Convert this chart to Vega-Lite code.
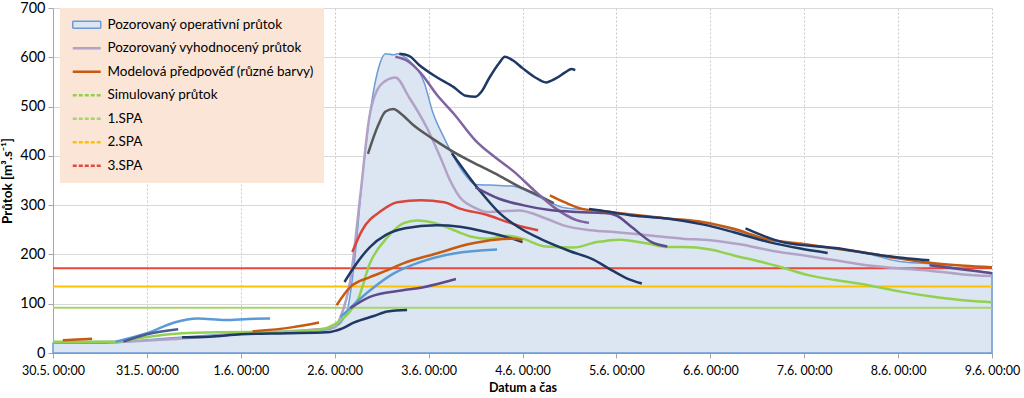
{
  "$schema": "https://vega.github.io/schema/vega-lite/v6.json",
  "width": 939,
  "height": 345,
  "autosize": {"type": "none"},
  "padding": {"left": 53, "top": 8, "right": 32, "bottom": 45},
  "background": "#ffffff",
  "config": {
    "view": {"stroke": null},
    "font": "Lato"
  },
  "datasets": {
    "obs": [
      {"t": "2013-05-30T00:00", "v": 20},
      {"t": "2013-05-30T12:00", "v": 20},
      {"t": "2013-05-30T18:00", "v": 22},
      {"t": "2013-05-31T00:00", "v": 27},
      {"t": "2013-05-31T12:00", "v": 34},
      {"t": "2013-06-01T00:00", "v": 40},
      {"t": "2013-06-01T12:00", "v": 42},
      {"t": "2013-06-01T22:00", "v": 47},
      {"t": "2013-06-02T00:00", "v": 52},
      {"t": "2013-06-02T03:00", "v": 81},
      {"t": "2013-06-02T05:00", "v": 182},
      {"t": "2013-06-02T07:00", "v": 350},
      {"t": "2013-06-02T09:00", "v": 485},
      {"t": "2013-06-02T11:30", "v": 586},
      {"t": "2013-06-02T13:00", "v": 607},
      {"t": "2013-06-02T15:00", "v": 605},
      {"t": "2013-06-02T16:00", "v": 607},
      {"t": "2013-06-02T18:00", "v": 600},
      {"t": "2013-06-02T19:30", "v": 590},
      {"t": "2013-06-02T23:00", "v": 546},
      {"t": "2013-06-03T01:00", "v": 490},
      {"t": "2013-06-03T04:00", "v": 436},
      {"t": "2013-06-03T06:30", "v": 397},
      {"t": "2013-06-03T09:00", "v": 365},
      {"t": "2013-06-03T12:00", "v": 342},
      {"t": "2013-06-03T18:00", "v": 340},
      {"t": "2013-06-03T22:00", "v": 338},
      {"t": "2013-06-04T02:00", "v": 325},
      {"t": "2013-06-04T06:00", "v": 310},
      {"t": "2013-06-04T10:00", "v": 296},
      {"t": "2013-06-04T14:00", "v": 292},
      {"t": "2013-06-04T20:00", "v": 288},
      {"t": "2013-06-05T04:00", "v": 280},
      {"t": "2013-06-05T13:00", "v": 273},
      {"t": "2013-06-05T22:00", "v": 266},
      {"t": "2013-06-06T06:00", "v": 250},
      {"t": "2013-06-06T14:00", "v": 230},
      {"t": "2013-06-06T23:00", "v": 221},
      {"t": "2013-06-07T08:00", "v": 212},
      {"t": "2013-06-07T16:00", "v": 202},
      {"t": "2013-06-08T00:00", "v": 186},
      {"t": "2013-06-08T09:00", "v": 180},
      {"t": "2013-06-08T17:00", "v": 170},
      {"t": "2013-06-09T00:00", "v": 163}
    ],
    "ser": [
      {"s": "Pozorovaný vyhodnocený průtok", "t": "2013-05-30T00:00", "v": 22},
      {"s": "Pozorovaný vyhodnocený průtok", "t": "2013-05-30T18:00", "v": 23},
      {"s": "Pozorovaný vyhodnocený průtok", "t": "2013-05-31T06:00", "v": 28},
      {"s": "Pozorovaný vyhodnocený průtok", "t": "2013-05-31T18:00", "v": 35},
      {"s": "Pozorovaný vyhodnocený průtok", "t": "2013-06-01T06:00", "v": 42},
      {"s": "Pozorovaný vyhodnocený průtok", "t": "2013-06-01T18:00", "v": 47},
      {"s": "Pozorovaný vyhodnocený průtok", "t": "2013-06-02T00:00", "v": 52},
      {"s": "Pozorovaný vyhodnocený průtok", "t": "2013-06-02T01:30", "v": 73},
      {"s": "Pozorovaný vyhodnocený průtok", "t": "2013-06-02T04:00", "v": 148},
      {"s": "Pozorovaný vyhodnocený průtok", "t": "2013-06-02T06:30", "v": 316},
      {"s": "Pozorovaný vyhodnocený průtok", "t": "2013-06-02T09:00", "v": 485},
      {"s": "Pozorovaný vyhodnocený průtok", "t": "2013-06-02T12:00", "v": 546},
      {"s": "Pozorovaný vyhodnocený průtok", "t": "2013-06-02T15:30", "v": 559},
      {"s": "Pozorovaný vyhodnocený průtok", "t": "2013-06-02T19:00", "v": 519},
      {"s": "Pozorovaný vyhodnocený průtok", "t": "2013-06-02T23:30", "v": 458},
      {"s": "Pozorovaný vyhodnocený průtok", "t": "2013-06-03T03:00", "v": 397},
      {"s": "Pozorovaný vyhodnocený průtok", "t": "2013-06-03T05:30", "v": 350},
      {"s": "Pozorovaný vyhodnocený průtok", "t": "2013-06-03T08:00", "v": 316},
      {"s": "Pozorovaný vyhodnocený průtok", "t": "2013-06-03T11:30", "v": 296},
      {"s": "Pozorovaný vyhodnocený průtok", "t": "2013-06-03T15:00", "v": 286},
      {"s": "Pozorovaný vyhodnocený průtok", "t": "2013-06-03T23:00", "v": 289},
      {"s": "Pozorovaný vyhodnocený průtok", "t": "2013-06-04T06:00", "v": 273},
      {"s": "Pozorovaný vyhodnocený průtok", "t": "2013-06-04T10:30", "v": 259},
      {"s": "Pozorovaný vyhodnocený průtok", "t": "2013-06-04T17:30", "v": 249},
      {"s": "Pozorovaný vyhodnocený průtok", "t": "2013-06-05T00:00", "v": 245},
      {"s": "Pozorovaný vyhodnocený průtok", "t": "2013-06-05T08:00", "v": 239},
      {"s": "Pozorovaný vyhodnocený průtok", "t": "2013-06-05T17:00", "v": 232},
      {"s": "Pozorovaný vyhodnocený průtok", "t": "2013-06-06T00:00", "v": 229},
      {"s": "Pozorovaný vyhodnocený průtok", "t": "2013-06-06T08:00", "v": 220},
      {"s": "Pozorovaný vyhodnocený průtok", "t": "2013-06-06T16:00", "v": 207},
      {"s": "Pozorovaný vyhodnocený průtok", "t": "2013-06-07T00:00", "v": 198},
      {"s": "Pozorovaný vyhodnocený průtok", "t": "2013-06-07T08:00", "v": 188},
      {"s": "Pozorovaný vyhodnocený průtok", "t": "2013-06-07T16:00", "v": 178},
      {"s": "Pozorovaný vyhodnocený průtok", "t": "2013-06-08T00:00", "v": 172},
      {"s": "Pozorovaný vyhodnocený průtok", "t": "2013-06-08T08:00", "v": 167},
      {"s": "Pozorovaný vyhodnocený průtok", "t": "2013-06-08T16:00", "v": 160},
      {"s": "Pozorovaný vyhodnocený průtok", "t": "2013-06-09T00:00", "v": 156},
      {"s": "Simulovaný průtok", "t": "2013-05-30T00:00", "v": 23},
      {"s": "Simulovaný průtok", "t": "2013-05-30T16:00", "v": 23},
      {"s": "Simulovaný průtok", "t": "2013-05-30T22:00", "v": 30},
      {"s": "Simulovaný průtok", "t": "2013-05-31T09:00", "v": 40},
      {"s": "Simulovaný průtok", "t": "2013-05-31T18:00", "v": 42},
      {"s": "Simulovaný průtok", "t": "2013-06-01T12:00", "v": 43},
      {"s": "Simulovaný průtok", "t": "2013-06-01T20:00", "v": 47},
      {"s": "Simulovaný průtok", "t": "2013-06-02T00:00", "v": 58},
      {"s": "Simulovaný průtok", "t": "2013-06-02T04:00", "v": 85},
      {"s": "Simulovaný průtok", "t": "2013-06-02T06:00", "v": 110},
      {"s": "Simulovaný průtok", "t": "2013-06-02T09:00", "v": 182},
      {"s": "Simulovaný průtok", "t": "2013-06-02T13:30", "v": 235},
      {"s": "Simulovaný průtok", "t": "2013-06-02T17:30", "v": 263},
      {"s": "Simulovaný průtok", "t": "2013-06-02T21:00", "v": 269},
      {"s": "Simulovaný průtok", "t": "2013-06-03T02:00", "v": 263},
      {"s": "Simulovaný průtok", "t": "2013-06-03T06:30", "v": 249},
      {"s": "Simulovaný průtok", "t": "2013-06-03T11:00", "v": 236},
      {"s": "Simulovaný průtok", "t": "2013-06-03T15:00", "v": 232},
      {"s": "Simulovaný průtok", "t": "2013-06-03T20:00", "v": 238},
      {"s": "Simulovaný průtok", "t": "2013-06-04T00:00", "v": 232},
      {"s": "Simulovaný průtok", "t": "2013-06-04T06:00", "v": 216},
      {"s": "Simulovaný průtok", "t": "2013-06-04T13:00", "v": 214},
      {"s": "Simulovaný průtok", "t": "2013-06-04T19:00", "v": 225},
      {"s": "Simulovaný průtok", "t": "2013-06-05T01:00", "v": 230},
      {"s": "Simulovaný průtok", "t": "2013-06-05T08:00", "v": 222},
      {"s": "Simulovaný průtok", "t": "2013-06-05T13:00", "v": 215},
      {"s": "Simulovaný průtok", "t": "2013-06-05T17:00", "v": 215},
      {"s": "Simulovaný průtok", "t": "2013-06-06T00:00", "v": 210},
      {"s": "Simulovaný průtok", "t": "2013-06-06T06:00", "v": 198},
      {"s": "Simulovaný průtok", "t": "2013-06-06T13:00", "v": 185},
      {"s": "Simulovaný průtok", "t": "2013-06-06T19:00", "v": 172},
      {"s": "Simulovaný průtok", "t": "2013-06-07T01:00", "v": 158},
      {"s": "Simulovaný průtok", "t": "2013-06-07T08:00", "v": 148},
      {"s": "Simulovaný průtok", "t": "2013-06-07T16:00", "v": 138},
      {"s": "Simulovaný průtok", "t": "2013-06-08T01:00", "v": 124},
      {"s": "Simulovaný průtok", "t": "2013-06-08T09:00", "v": 114},
      {"s": "Simulovaný průtok", "t": "2013-06-08T18:00", "v": 106},
      {"s": "Simulovaný průtok", "t": "2013-06-09T00:00", "v": 103}
    ],
    "spa": [
      {"s": "1.SPA", "v": 92},
      {"s": "2.SPA", "v": 135},
      {"s": "3.SPA", "v": 172}
    ],
    "fc": [
      {"r": "r01", "t": "2013-05-30T02:30", "v": 26},
      {"r": "r01", "t": "2013-05-30T10:00", "v": 29},
      {"r": "r02", "t": "2013-05-30T16:00", "v": 23},
      {"r": "r02", "t": "2013-05-31T00:00", "v": 40},
      {"r": "r02", "t": "2013-05-31T07:00", "v": 62},
      {"r": "r02", "t": "2013-05-31T13:00", "v": 70},
      {"r": "r02", "t": "2013-05-31T20:00", "v": 67},
      {"r": "r02", "t": "2013-06-01T02:00", "v": 69},
      {"r": "r02", "t": "2013-06-01T07:30", "v": 70},
      {"r": "r03", "t": "2013-05-30T18:00", "v": 23},
      {"r": "r03", "t": "2013-05-31T00:00", "v": 38},
      {"r": "r03", "t": "2013-05-31T08:00", "v": 48},
      {"r": "r04", "t": "2013-05-31T09:00", "v": 32},
      {"r": "r04", "t": "2013-05-31T16:00", "v": 33},
      {"r": "r04", "t": "2013-06-01T00:00", "v": 38},
      {"r": "r04", "t": "2013-06-01T12:00", "v": 40},
      {"r": "r04", "t": "2013-06-01T22:00", "v": 42},
      {"r": "r04", "t": "2013-06-02T02:00", "v": 50},
      {"r": "r04", "t": "2013-06-02T05:00", "v": 62},
      {"r": "r04", "t": "2013-06-02T10:00", "v": 75},
      {"r": "r04", "t": "2013-06-02T13:30", "v": 84},
      {"r": "r04", "t": "2013-06-02T18:30", "v": 87},
      {"r": "r05", "t": "2013-06-01T03:00", "v": 44},
      {"r": "r05", "t": "2013-06-01T13:00", "v": 52},
      {"r": "r05", "t": "2013-06-01T20:00", "v": 62},
      {"r": "r06", "t": "2013-06-02T08:30", "v": 404},
      {"r": "r06", "t": "2013-06-02T11:00", "v": 460},
      {"r": "r06", "t": "2013-06-02T13:00", "v": 490},
      {"r": "r06", "t": "2013-06-02T15:00", "v": 495},
      {"r": "r06", "t": "2013-06-02T17:00", "v": 485},
      {"r": "r06", "t": "2013-06-02T20:00", "v": 463},
      {"r": "r06", "t": "2013-06-03T01:00", "v": 435},
      {"r": "r06", "t": "2013-06-03T07:00", "v": 405},
      {"r": "r06", "t": "2013-06-03T13:00", "v": 380},
      {"r": "r06", "t": "2013-06-03T18:00", "v": 360},
      {"r": "r06", "t": "2013-06-03T23:30", "v": 336},
      {"r": "r06", "t": "2013-06-04T03:30", "v": 322},
      {"r": "r06", "t": "2013-06-04T08:00", "v": 304},
      {"r": "r07", "t": "2013-06-02T04:30", "v": 205},
      {"r": "r07", "t": "2013-06-02T07:00", "v": 249},
      {"r": "r07", "t": "2013-06-02T12:00", "v": 289},
      {"r": "r07", "t": "2013-06-02T16:00", "v": 306},
      {"r": "r07", "t": "2013-06-02T22:00", "v": 310},
      {"r": "r07", "t": "2013-06-03T04:00", "v": 306},
      {"r": "r07", "t": "2013-06-03T08:00", "v": 293},
      {"r": "r07", "t": "2013-06-03T15:00", "v": 280},
      {"r": "r07", "t": "2013-06-03T20:00", "v": 266},
      {"r": "r07", "t": "2013-06-04T00:00", "v": 256},
      {"r": "r07", "t": "2013-06-04T04:00", "v": 249},
      {"r": "r08", "t": "2013-06-02T02:30", "v": 144},
      {"r": "r08", "t": "2013-06-02T05:00", "v": 175},
      {"r": "r08", "t": "2013-06-02T09:00", "v": 215},
      {"r": "r08", "t": "2013-06-02T13:00", "v": 239},
      {"r": "r08", "t": "2013-06-02T18:00", "v": 253},
      {"r": "r08", "t": "2013-06-03T02:00", "v": 259},
      {"r": "r08", "t": "2013-06-03T08:00", "v": 256},
      {"r": "r08", "t": "2013-06-03T15:00", "v": 245},
      {"r": "r08", "t": "2013-06-03T20:00", "v": 235},
      {"r": "r08", "t": "2013-06-04T00:00", "v": 225},
      {"r": "r09", "t": "2013-06-03T06:00", "v": 405},
      {"r": "r09", "t": "2013-06-03T13:00", "v": 330},
      {"r": "r09", "t": "2013-06-03T18:00", "v": 285},
      {"r": "r09", "t": "2013-06-03T23:00", "v": 255},
      {"r": "r09", "t": "2013-06-04T05:00", "v": 230},
      {"r": "r09", "t": "2013-06-04T12:00", "v": 207},
      {"r": "r09", "t": "2013-06-04T18:00", "v": 190},
      {"r": "r09", "t": "2013-06-04T23:00", "v": 167},
      {"r": "r09", "t": "2013-06-05T02:30", "v": 152},
      {"r": "r09", "t": "2013-06-05T06:30", "v": 141},
      {"r": "r10", "t": "2013-06-02T00:30", "v": 97},
      {"r": "r10", "t": "2013-06-02T04:00", "v": 134},
      {"r": "r10", "t": "2013-06-02T09:00", "v": 154},
      {"r": "r10", "t": "2013-06-02T13:30", "v": 168},
      {"r": "r10", "t": "2013-06-02T17:30", "v": 182},
      {"r": "r10", "t": "2013-06-03T02:00", "v": 202},
      {"r": "r10", "t": "2013-06-03T11:00", "v": 222},
      {"r": "r10", "t": "2013-06-03T17:00", "v": 230},
      {"r": "r10", "t": "2013-06-03T22:00", "v": 232},
      {"r": "r10", "t": "2013-06-04T00:00", "v": 229},
      {"r": "r11", "t": "2013-06-02T01:30", "v": 73},
      {"r": "r11", "t": "2013-06-02T09:00", "v": 127},
      {"r": "r11", "t": "2013-06-02T15:00", "v": 161},
      {"r": "r11", "t": "2013-06-02T22:00", "v": 185},
      {"r": "r11", "t": "2013-06-03T06:30", "v": 202},
      {"r": "r11", "t": "2013-06-03T17:30", "v": 210},
      {"r": "r12", "t": "2013-06-02T04:00", "v": 91},
      {"r": "r12", "t": "2013-06-02T09:00", "v": 114},
      {"r": "r12", "t": "2013-06-02T17:00", "v": 127},
      {"r": "r12", "t": "2013-06-02T23:00", "v": 134},
      {"r": "r12", "t": "2013-06-03T07:00", "v": 150},
      {"r": "r13", "t": "2013-06-02T16:30", "v": 607},
      {"r": "r13", "t": "2013-06-02T19:00", "v": 603},
      {"r": "r13", "t": "2013-06-02T21:30", "v": 585},
      {"r": "r13", "t": "2013-06-03T02:00", "v": 560},
      {"r": "r13", "t": "2013-06-03T06:30", "v": 539},
      {"r": "r13", "t": "2013-06-03T09:30", "v": 522},
      {"r": "r13", "t": "2013-06-03T12:00", "v": 520},
      {"r": "r13", "t": "2013-06-03T13:30", "v": 530},
      {"r": "r13", "t": "2013-06-03T15:30", "v": 558},
      {"r": "r13", "t": "2013-06-03T18:00", "v": 588},
      {"r": "r13", "t": "2013-06-03T19:30", "v": 601},
      {"r": "r13", "t": "2013-06-03T21:30", "v": 594},
      {"r": "r13", "t": "2013-06-04T00:00", "v": 578},
      {"r": "r13", "t": "2013-06-04T03:30", "v": 558},
      {"r": "r13", "t": "2013-06-04T06:00", "v": 549},
      {"r": "r13", "t": "2013-06-04T08:30", "v": 557},
      {"r": "r13", "t": "2013-06-04T11:00", "v": 570},
      {"r": "r13", "t": "2013-06-04T12:30", "v": 576},
      {"r": "r13", "t": "2013-06-04T13:30", "v": 574},
      {"r": "r14", "t": "2013-06-02T15:30", "v": 601},
      {"r": "r14", "t": "2013-06-02T18:30", "v": 593},
      {"r": "r14", "t": "2013-06-02T22:00", "v": 568},
      {"r": "r14", "t": "2013-06-03T02:00", "v": 525},
      {"r": "r14", "t": "2013-06-03T06:30", "v": 485},
      {"r": "r14", "t": "2013-06-03T12:00", "v": 431},
      {"r": "r14", "t": "2013-06-03T17:00", "v": 397},
      {"r": "r14", "t": "2013-06-03T21:30", "v": 370},
      {"r": "r14", "t": "2013-06-04T03:00", "v": 330},
      {"r": "r14", "t": "2013-06-04T08:00", "v": 296},
      {"r": "r14", "t": "2013-06-04T14:00", "v": 269},
      {"r": "r14", "t": "2013-06-04T17:00", "v": 264},
      {"r": "r15", "t": "2013-06-03T12:00", "v": 336},
      {"r": "r15", "t": "2013-06-03T18:00", "v": 313},
      {"r": "r15", "t": "2013-06-04T00:00", "v": 300},
      {"r": "r15", "t": "2013-06-04T07:00", "v": 290},
      {"r": "r15", "t": "2013-06-04T14:00", "v": 286},
      {"r": "r15", "t": "2013-06-04T21:00", "v": 284},
      {"r": "r15", "t": "2013-06-05T00:00", "v": 279},
      {"r": "r15", "t": "2013-06-05T04:00", "v": 255},
      {"r": "r15", "t": "2013-06-05T09:00", "v": 225},
      {"r": "r15", "t": "2013-06-05T13:00", "v": 216},
      {"r": "r16", "t": "2013-06-04T07:00", "v": 320},
      {"r": "r16", "t": "2013-06-04T11:00", "v": 305},
      {"r": "r16", "t": "2013-06-04T15:00", "v": 293},
      {"r": "r16", "t": "2013-06-04T20:00", "v": 288},
      {"r": "r16", "t": "2013-06-05T05:00", "v": 280},
      {"r": "r16", "t": "2013-06-05T13:00", "v": 273},
      {"r": "r16", "t": "2013-06-05T22:00", "v": 266},
      {"r": "r16", "t": "2013-06-06T06:00", "v": 252},
      {"r": "r16", "t": "2013-06-06T14:00", "v": 232},
      {"r": "r16", "t": "2013-06-06T23:00", "v": 222},
      {"r": "r16", "t": "2013-06-07T07:00", "v": 213},
      {"r": "r16", "t": "2013-06-07T16:00", "v": 203},
      {"r": "r16", "t": "2013-06-08T00:00", "v": 192},
      {"r": "r16", "t": "2013-06-08T08:00", "v": 183},
      {"r": "r16", "t": "2013-06-08T17:00", "v": 177},
      {"r": "r16", "t": "2013-06-09T00:00", "v": 174},
      {"r": "r17", "t": "2013-06-04T17:00", "v": 292},
      {"r": "r17", "t": "2013-06-04T20:00", "v": 289},
      {"r": "r17", "t": "2013-06-05T04:00", "v": 279},
      {"r": "r17", "t": "2013-06-05T13:00", "v": 273},
      {"r": "r17", "t": "2013-06-05T22:00", "v": 261},
      {"r": "r17", "t": "2013-06-06T06:00", "v": 245},
      {"r": "r17", "t": "2013-06-06T15:00", "v": 225},
      {"r": "r17", "t": "2013-06-06T23:00", "v": 212},
      {"r": "r17", "t": "2013-06-07T06:00", "v": 203},
      {"r": "r18", "t": "2013-06-06T09:00", "v": 253},
      {"r": "r18", "t": "2013-06-06T19:00", "v": 224},
      {"r": "r18", "t": "2013-06-07T08:00", "v": 213},
      {"r": "r18", "t": "2013-06-07T20:00", "v": 198},
      {"r": "r18", "t": "2013-06-08T08:00", "v": 188},
      {"r": "r19", "t": "2013-06-08T08:00", "v": 178},
      {"r": "r19", "t": "2013-06-08T16:00", "v": 170},
      {"r": "r19", "t": "2013-06-09T00:00", "v": 162}
    ]
  },
  "encoding": {
    "x": {
      "field": "t",
      "type": "temporal",
      "scale": {"domain": [{"year": 2013, "month": 5, "date": 30}, {"year": 2013, "month": 6, "date": 9}], "nice": false},
      "axis": {
        "title": "Datum a čas",
        "titleFont": "Lato",
        "titleFontSize": 12.5,
        "titleFontWeight": "bold",
        "titleColor": "#000000",
        "titlePadding": 5,
        "format": "%-d.%-m. %H:%M",
        "tickCount": {"interval": "day", "step": 1},
        "labelFont": "Lato",
        "labelFontSize": 12.5,
        "labelColor": "#000000",
        "labelPadding": 6,
        "labelFlush": false,
        "labelOverlap": false,
        "grid": true,
        "gridColor": "#C8C8C8",
        "gridDash": [2, 2],
        "domainColor": "#A6A6A6",
        "tickColor": "#A6A6A6",
        "tickSize": 5
      }
    },
    "y": {
      "field": "v",
      "type": "quantitative",
      "scale": {"domain": [0, 700], "nice": false},
      "axis": {
        "title": "Průtok [m³.s⁻¹]",
        "titleFont": "Lato",
        "titleFontSize": 13.5,
        "titleFontWeight": "bold",
        "titleColor": "#000000",
        "titlePadding": 5,
        "values": [0, 100, 200, 300, 400, 500, 600, 700],
        "labelFont": "Lato",
        "labelFontSize": 14.5,
        "labelColor": "#000000",
        "labelPadding": 3,
        "grid": true,
        "gridColor": "#D9D9D9",
        "domainColor": "#A6A6A6",
        "tickColor": "#A6A6A6",
        "tickSize": 5
      }
    }
  },
  "layer": [
    {
      "data": {"name": "obs"},
      "mark": {"type": "area", "fill": "#DCE6F2", "stroke": "#6A9BD8", "strokeWidth": 1.5, "interpolate": "monotone"}
    },
    {
      "data": {"name": "spa"},
      "mark": {"type": "rule", "strokeWidth": 2},
      "encoding": {
        "x": null,
        "color": {
          "field": "s",
          "type": "nominal",
          "scale": {
            "domain": ["Pozorovaný operativní průtok", "Pozorovaný vyhodnocený průtok", "Modelová předpověď (různé barvy)", "Simulovaný průtok", "1.SPA", "2.SPA", "3.SPA"],
            "range": ["#6A9BD8", "#B3A2C7", "#C55A11", "#92D050", "#A6D46E", "#FFC000", "#E8483B"]
          },
          "legend": {
            "title": null,
            "orient": "none",
            "legendX": 7,
            "legendY": 0,
            "fillColor": "#FBE5D6",
            "padding": 10,
            "symbolType": "stroke",
            "symbolSize": 784,
            "symbolStrokeWidth": 2.5,
            "symbolOffset": 10,
            "labelFont": "Lato",
            "labelFontSize": 13.5,
            "labelColor": "#000000",
            "labelOffset": 14,
            "labelLimit": 400,
            "rowPadding": 8.5,
            "encode": {
              "symbols": {
                "update": {
                  "shape": {"signal": "datum.value === 'Pozorovaný operativní průtok' ? 'M-1,-0.25H1V0.25H-1Z' : 'stroke'"},
                  "fill": {"signal": "datum.value === 'Pozorovaný operativní průtok' ? '#DCE6F2' : 'transparent'"},
                  "strokeWidth": {"signal": "datum.value === 'Pozorovaný operativní průtok' ? 1.5 : 2.5"},
                  "strokeDash": {"signal": "indexof(['Simulovaný průtok','1.SPA','2.SPA','3.SPA'], datum.value) >= 0 ? [4,2] : [1,0]"}
                }
              }
            }
          }
        }
      }
    },
    {
      "data": {"name": "ser"},
      "mark": {"type": "line", "strokeWidth": 2.5, "interpolate": "monotone"},
      "encoding": {
        "color": {"field": "s", "type": "nominal"}
      }
    },
    {
      "data": {"name": "fc"},
      "mark": {"type": "line", "strokeWidth": 2.5, "interpolate": "monotone"},
      "encoding": {
        "stroke": {
          "field": "r",
          "type": "nominal",
          "legend": null,
          "scale": {
            "domain": ["r01", "r02", "r03", "r04", "r05", "r06", "r07", "r08", "r09", "r10", "r11", "r12", "r13", "r14", "r15", "r16", "r17", "r18", "r19"],
            "range": ["#C55A11", "#5B9BD5", "#4A5A96", "#1F3864", "#C55A11", "#595959", "#D9453B", "#1F3864", "#1F3864", "#C55A11", "#5B9BD5", "#5F4B8B", "#1F3864", "#8064A2", "#5F4B8B", "#C55A11", "#1F3864", "#1F3864", "#5F4B8B"]
          }
        }
      }
    }
  ]
}
